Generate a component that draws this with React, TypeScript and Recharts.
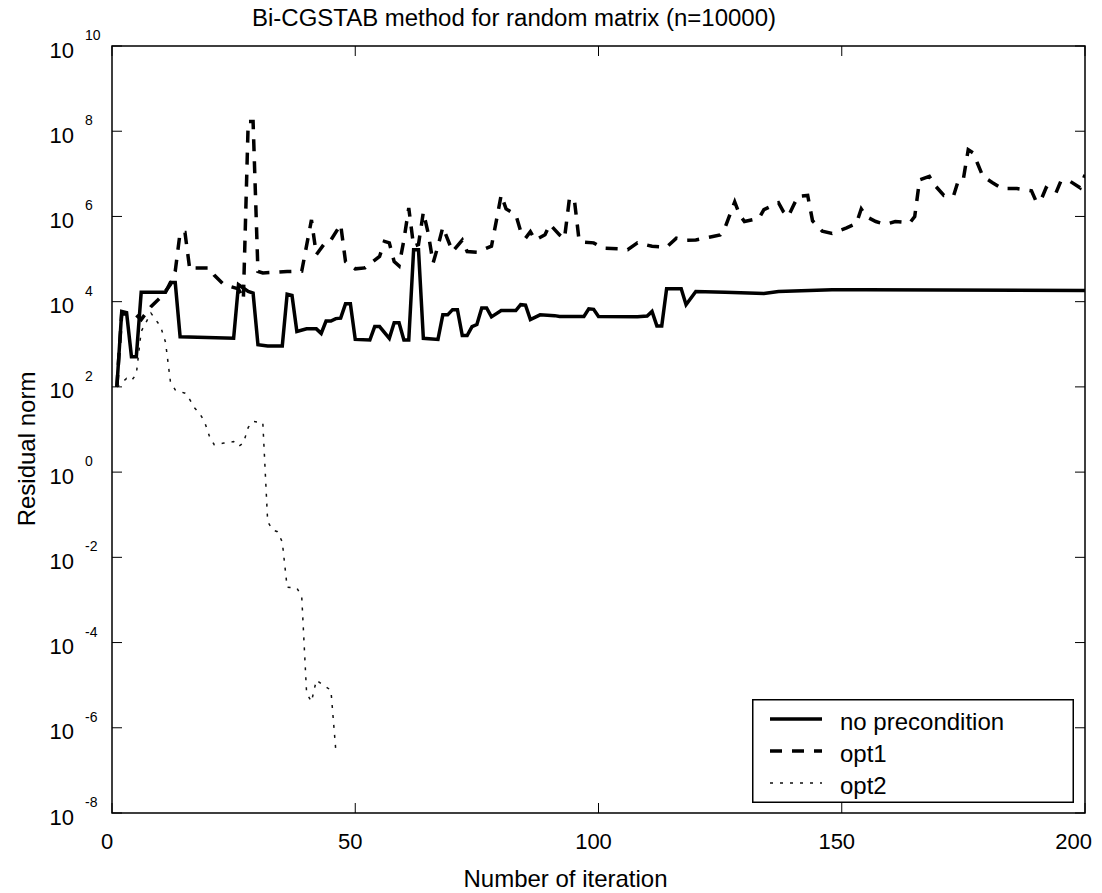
import React from 'react';
import { LineChart, Line, XAxis, YAxis, ReferenceArea, Legend } from 'recharts';

// ---------- data (iteration, residual norm) ----------
const NO_PRECONDITION: [number, number][] = [
  [1, 100], [2, 5.9e3], [3, 5.5e3], [4, 5.1e2], [5, 5.1e2], [6, 1.66e4], [11, 1.66e4], [12, 2.8e4],
  [13, 2.8e4], [14, 1.5e3], [25, 1.38e3], [26, 2.5e4], [28, 1.74e4], [29, 1.6e4], [30, 9.8e2],
  [32, 9.1e2], [35, 9.1e2], [36, 1.5e4], [37, 1.4e4], [38, 2.0e3], [40, 2.3e3], [42, 2.3e3],
  [43, 1.8e3], [44, 3.5e3], [45, 3.5e3], [46, 4.0e3], [47, 4.1e3], [48, 8.9e3], [49, 8.9e3],
  [50, 1.3e3], [53, 1.26e3], [54, 2.6e3], [55, 2.6e3], [57, 1.38e3], [58, 3.2e3], [59, 3.2e3],
  [60, 1.26e3], [61, 1.26e3], [62, 1.66e5], [63, 1.66e5], [64, 1.38e3], [67, 1.3e3], [68, 4.9e3],
  [69, 4.9e3], [70, 6.5e3], [71, 6.5e3], [72, 1.6e3], [73, 1.6e3], [74, 2.6e3], [75, 2.9e3],
  [76, 7.1e3], [77, 7.1e3], [78, 4.4e3], [80, 6.2e3], [83, 6.2e3], [84, 8.5e3], [85, 8.3e3],
  [86, 3.8e3], [88, 4.9e3], [91, 4.7e3], [92, 4.5e3], [97, 4.5e3], [98, 6.8e3], [99, 6.6e3],
  [100, 4.5e3], [108, 4.4e3], [110, 4.6e3], [111, 5.9e3], [112, 2.7e3], [113, 2.7e3], [114, 2.0e4],
  [117, 2.0e4], [118, 8.5e3], [120, 1.74e4], [126, 1.66e4], [134, 1.55e4], [137, 1.74e4],
  [148, 1.9e4], [155, 1.9e4], [200, 1.82e4],
];

const OPT1: [number, number][] = [
  [1, 100], [2, 5.2e3], [4, 5.0e3], [5, 4.8e3], [6, 3.8e3], [8, 7.6e3], [10, 1.26e4], [12, 2.5e4],
  [13, 5.2e4], [14, 4.2e5], [15, 4.2e5], [16, 5.6e4], [17, 6.2e4], [20, 6.2e4], [21, 4.2e4],
  [23, 2.5e4], [26, 2.0e4], [27, 1.12e4], [28, 1.7e8], [29, 1.7e8], [30, 5.1e4], [31, 4.7e4],
  [36, 5.1e4], [39, 5.2e4], [41, 8.3e5], [42, 1.26e5], [44, 2.6e5], [45, 2.8e5], [47, 6.5e5],
  [48, 8.7e4], [50, 5.9e4], [52, 6.2e4], [55, 1.15e5], [56, 2.6e5], [57, 2.4e5], [58, 8.7e4],
  [59, 6.9e4], [60, 2.8e5], [61, 1.58e6], [62, 2.0e5], [63, 2.2e5], [64, 1.26e6], [65, 4.0e5],
  [66, 8.1e4], [67, 2.0e5], [68, 5.6e5], [70, 1.5e5], [72, 2.8e5], [73, 1.5e5], [75, 1.45e5],
  [78, 2.0e5], [79, 7.9e5], [80, 3.2e6], [81, 1.5e6], [83, 1.1e6], [84, 4.5e5], [85, 3.1e5],
  [86, 4.4e5], [87, 2.8e5], [89, 3.7e5], [90, 6.5e5], [92, 3.7e5], [93, 3.0e5], [94, 2.5e6],
  [95, 2.7e6], [96, 2.8e5], [97, 2.5e5], [99, 2.4e5], [101, 1.8e5], [104, 1.74e5], [106, 1.66e5],
  [108, 2.4e5], [111, 2.0e5], [114, 1.9e5], [116, 3.1e5], [118, 2.75e5], [120, 2.8e5],
  [123, 3.3e5], [125, 3.7e5], [126, 5.4e5], [128, 2.2e6], [129, 1.1e6], [130, 7.6e5], [133, 9.1e5],
  [134, 1.45e6], [137, 2.1e6], [138, 1.3e6], [139, 1.0e6], [140, 1.74e6], [141, 2.95e6],
  [143, 3.1e6], [144, 7.9e5], [146, 4.5e5], [148, 4.0e5], [151, 5.4e5], [153, 6.8e5], [154, 1.5e6],
  [155, 1.0e6], [157, 7.6e5], [159, 6.5e5], [161, 7.6e5], [164, 7.1e5], [165, 1.0e6], [166, 7.2e6],
  [168, 8.7e6], [169, 5.6e6], [171, 3.1e6], [173, 3.1e6], [174, 7.2e6], [175, 7.6e6], [176, 3.7e7],
  [177, 3.1e7], [178, 1.66e7], [179, 8.7e6], [181, 6.2e6], [183, 4.5e6], [186, 4.5e6], [189, 4.0e6],
  [190, 2.2e6], [191, 2.5e6], [192, 4.7e6], [194, 3.5e6], [195, 6.6e6], [197, 6.6e6], [199, 4.7e6],
  [200, 9.5e6],
];

const OPT2: [number, number][] = [
  [1, 100], [2, 126], [3, 158], [4, 140], [5, 200], [6, 2.0e3], [8, 5.4e3], [10, 2.6e3], [11, 1.12e3],
  [12, 135], [13, 85], [15, 71], [16, 50], [17, 32], [18, 24], [19, 15.5], [20, 7.1], [21, 4.4],
  [23, 4.8], [25, 5.2], [26, 4.0], [27, 4.8], [28, 11.2], [29, 15.5], [31, 14.5], [32, 6.9e-2],
  [33, 4.4e-2], [34, 4.0e-2], [35, 2.3e-2], [36, 2.0e-3], [38, 1.9e-3], [39, 1.2e-3], [40, 6.5e-6],
  [41, 4.1e-6], [42, 1.3e-5], [44, 9.1e-6], [45, 7.6e-6], [46, 3.0e-7],
];

const X_TICKS = [0, 50, 100, 150, 200];
const Y_EXPONENTS = [-8, -6, -4, -2, 0, 2, 4, 6, 8, 10];
const TITLE = 'Bi-CGSTAB method for random matrix (n=10000)';
const X_LABEL = 'Number of iteration';
const Y_LABEL = 'Residual norm';

// ---------- layout ----------
const W = 1094;
const H = 885;
const MARGIN = { top: 38, right: 17, left: 0, bottom: 0 };
const Y_AXIS_W = 104;
const X_AXIS_H = 80;
const PLOT_W = W - MARGIN.left - MARGIN.right - Y_AXIS_W;
const PLOT_H = H - MARGIN.top - MARGIN.bottom - X_AXIS_H;
const FONT = '"Liberation Sans", Arial, Helvetica, sans-serif';
const TICK_LEN = 10;

if (typeof document !== 'undefined') {
  document.documentElement.style.overflow = 'hidden';
  document.body.style.overflow = 'hidden';
}

const toPoints = (arr: [number, number][]) => arr.map(([it, v]) => ({ it, v }));

const SERIES = [
  { name: 'no precondition', data: toPoints(NO_PRECONDITION), width: 3.5, dash: undefined as string | undefined, color: '#000' },
  { name: 'opt1', data: toPoints(OPT1), width: 3.5, dash: '12 10', color: '#000' },
  { name: 'opt2', data: toPoints(OPT2), width: 1.5, dash: '3 7', color: '#111' },
];

const YTick = (props: any) => {
  const { x, y, payload } = props;
  const exp = Math.round(Math.log10(payload.value));
  return (
    <g>
      <line x1={x} x2={x + TICK_LEN} y1={y} y2={y} stroke="#000" strokeWidth={1} />
      <line x1={x + PLOT_W - TICK_LEN} x2={x + PLOT_W} y1={y} y2={y} stroke="#000" strokeWidth={1} />
      <text x={x - 38} y={y + 11.5} textAnchor="end" fontSize={22} fontFamily={FONT} fill="#000">10</text>
      <text x={x - 27} y={y - 6} textAnchor="start" fontSize={14} fontFamily={FONT} fill="#000">{exp}</text>
    </g>
  );
};

const XTick = (props: any) => {
  const { x, y, payload } = props;
  const isLast = payload.value === X_TICKS[X_TICKS.length - 1];
  return (
    <g>
      <line x1={x} x2={x} y1={y} y2={y - TICK_LEN} stroke="#000" strokeWidth={1} />
      <line x1={x} x2={x} y1={y - PLOT_H} y2={y - PLOT_H + TICK_LEN} stroke="#000" strokeWidth={1} />
      <text
        x={isLast ? x + 7 : x - 5}
        y={y + 36}
        textAnchor={isLast ? 'end' : 'middle'}
        fontSize={22}
        fontFamily={FONT}
        fill="#000"
      >
        {payload.value}
      </text>
    </g>
  );
};

const ROWS = [20, 52, 84];
const LegendBox = () => (
  <svg width={322} height={104} style={{ display: 'block' }}>
    <rect x={0.75} y={0.75} width={320.5} height={102.5} fill="#fff" stroke="#000" strokeWidth={1.5} />
    {SERIES.map((s, i) => (
      <g key={s.name}>
        <line x1={18} x2={70} y1={ROWS[i]} y2={ROWS[i]} stroke={s.color} strokeWidth={s.width} strokeDasharray={s.dash} />
        <text x={88} y={ROWS[i] + 11} fontSize={24} fontFamily={FONT} fill="#000">{s.name}</text>
      </g>
    ))}
  </svg>
);

export default function App() {
  return (
    <div style={{ position: 'relative', width: W, height: H, background: '#fff' }}>
      <LineChart width={W} height={H} margin={MARGIN} style={{ overflow: 'visible' }}>
        <XAxis
          dataKey="it"
          type="number"
          domain={[0, 200]}
          ticks={X_TICKS}
          interval={0}
          allowDataOverflow
          axisLine={false}
          tickLine={false}
          tickSize={0}
          tickMargin={0}
          height={X_AXIS_H}
          tick={<XTick />}
        />
        <YAxis
          type="number"
          scale="log"
          domain={[1e-8, 1e10]}
          ticks={Y_EXPONENTS.map((e) => Math.pow(10, e))}
          interval={0}
          allowDataOverflow
          axisLine={false}
          tickLine={false}
          tickSize={0}
          tickMargin={0}
          width={Y_AXIS_W}
          tick={<YTick />}
        />
        <ReferenceArea x1={0} x2={200} y1={1e-8} y2={1e10} fill="none" stroke="#000" strokeWidth={1.5} ifOverflow="visible" />
        {SERIES.map((s) => (
          <Line
            key={s.name}
            data={s.data}
            dataKey="v"
            name={s.name}
            type="linear"
            stroke={s.color}
            strokeWidth={s.width}
            strokeDasharray={s.dash}
            dot={false}
            activeDot={false}
            isAnimationActive={false}
          />
        ))}
        <Legend
          layout="vertical"
          align="center"
          verticalAlign="middle"
          content={<LegendBox />}
          wrapperStyle={{ position: 'absolute', left: 744, top: 691, width: 322, height: 104 }}
        />
      </LineChart>
      <svg width={W} height={H} style={{ position: 'absolute', left: 0, top: 0, pointerEvents: 'none', overflow: 'visible' }}>
        <text x={506} y={18} textAnchor="middle" fontSize={23} fontFamily={FONT} fill="#000" textLength={524} lengthAdjust="spacingAndGlyphs">{TITLE}</text>
        <text x={557.5} y={878.7} textAnchor="middle" fontSize={24} fontFamily={FONT} fill="#000">{X_LABEL}</text>
        <text transform="translate(27,441) rotate(-90)" textAnchor="middle" fontSize={24} fontFamily={FONT} fill="#000">{Y_LABEL}</text>
      </svg>
    </div>
  );
}
